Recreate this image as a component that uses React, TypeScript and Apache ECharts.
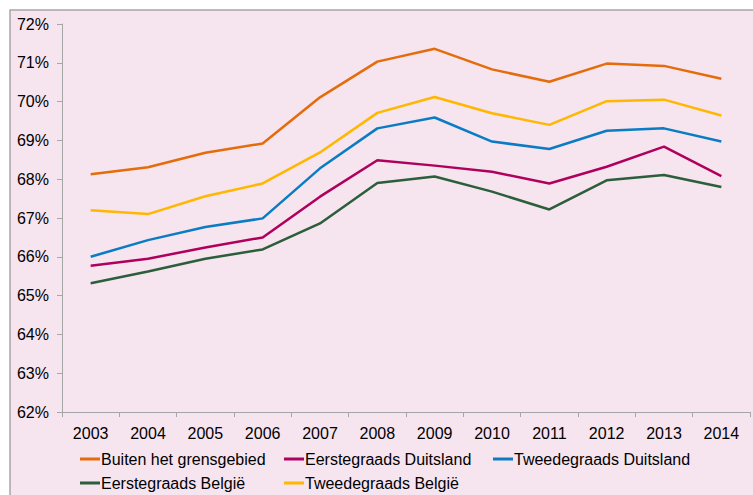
import React, { useEffect, useRef } from "react";
import * as echarts from "echarts";

const years = ["2003", "2004", "2005", "2006", "2007", "2008", "2009", "2010", "2011", "2012", "2013", "2014"];
const buiten = [68.13, 68.31, 68.68, 68.92, 70.11, 71.03, 71.36, 70.83, 70.51, 70.98, 70.92, 70.59];
const eersteDuitsland = [65.77, 65.95, 66.24, 66.5, 67.55, 68.49, 68.35, 68.19, 67.89, 68.32, 68.84, 68.08];
const tweedeDuitsland = [66.0, 66.43, 66.77, 66.99, 68.28, 69.31, 69.59, 68.97, 68.78, 69.25, 69.31, 68.97];
const eersteBelgie = [65.32, 65.62, 65.95, 66.19, 66.86, 67.9, 68.07, 67.68, 67.22, 67.97, 68.11, 67.8];
const tweedeBelgie = [67.2, 67.1, 67.56, 67.89, 68.69, 69.71, 70.12, 69.7, 69.4, 70.01, 70.05, 69.64];

const seriesNames = [
  "Buiten het grensgebied",
  "Eerstegraads Duitsland",
  "Tweedegraads Duitsland",
  "Eerstegraads België",
  "Tweedegraads België",
];
const seriesData = [buiten, eersteDuitsland, tweedeDuitsland, eersteBelgie, tweedeBelgie];
const seriesColors = ["#E46C0A", "#B0005E", "#0A7CC4", "#2B5E3B", "#FFB700"];

const legendPos = [
  { left: 80, top: 451 },
  { left: 284, top: 451 },
  { left: 493, top: 451 },
  { left: 80, top: 475 },
  { left: 284, top: 475 },
];

export default function App() {
  const ref = useRef<HTMLDivElement>(null);
  useEffect(() => {
    if (!ref.current) return;
    const chart = echarts.init(ref.current, null, { renderer: "svg" });
    const font = "Liberation Sans, Arial, sans-serif";
    chart.setOption({
      animation: false,
      backgroundColor: "#ffffff",
      textStyle: { fontFamily: font },
      graphic: [
        {
          type: "rect",
          z: -10,
          shape: { x: 10, y: 10, width: 800, height: 600 },
          style: { fill: "#F6E4EF", stroke: "#A6A6A6", lineWidth: 1.5 },
        },
      ],
      grid: { left: 62, right: 3, top: 24, bottom: 83, containLabel: false },
      legend: legendPos.map((p, i) => ({
        left: p.left,
        top: p.top,
        data: [seriesNames[i]],
        icon: "rect",
        itemWidth: 20,
        itemHeight: 3,
        padding: 0,
        textStyle: { fontSize: 16, color: "#000", fontFamily: font, padding: [0, 0, 0, -4] },
      })),
      xAxis: {
        type: "category",
        data: years,
        boundaryGap: true,
        axisLine: { lineStyle: { color: "#A6A6A6", width: 1 } },
        axisTick: { show: true, length: 5, lineStyle: { color: "#A6A6A6" } },
        axisLabel: { color: "#000", fontSize: 16, margin: 13, fontFamily: font },
        splitLine: { show: false },
      },
      yAxis: {
        type: "value",
        min: 62,
        max: 72,
        interval: 1,
        axisLine: { show: true, lineStyle: { color: "#A6A6A6", width: 1 } },
        axisTick: { show: true, length: 5, lineStyle: { color: "#A6A6A6" } },
        axisLabel: { color: "#000", fontSize: 16, margin: 13, fontFamily: font, formatter: (v: number) => v + "%" },
        splitLine: { show: false },
      },
      series: seriesNames.map((name, i) => ({
        name,
        type: "line",
        data: seriesData[i],
        symbol: "none",
        color: seriesColors[i],
        lineStyle: { width: 2.5, color: seriesColors[i] },
      })),
    });
    return () => chart.dispose();
  }, []);
  return <div ref={ref} style={{ position: "fixed", left: 0, top: 0, width: 753, height: 495 }} />;
}
